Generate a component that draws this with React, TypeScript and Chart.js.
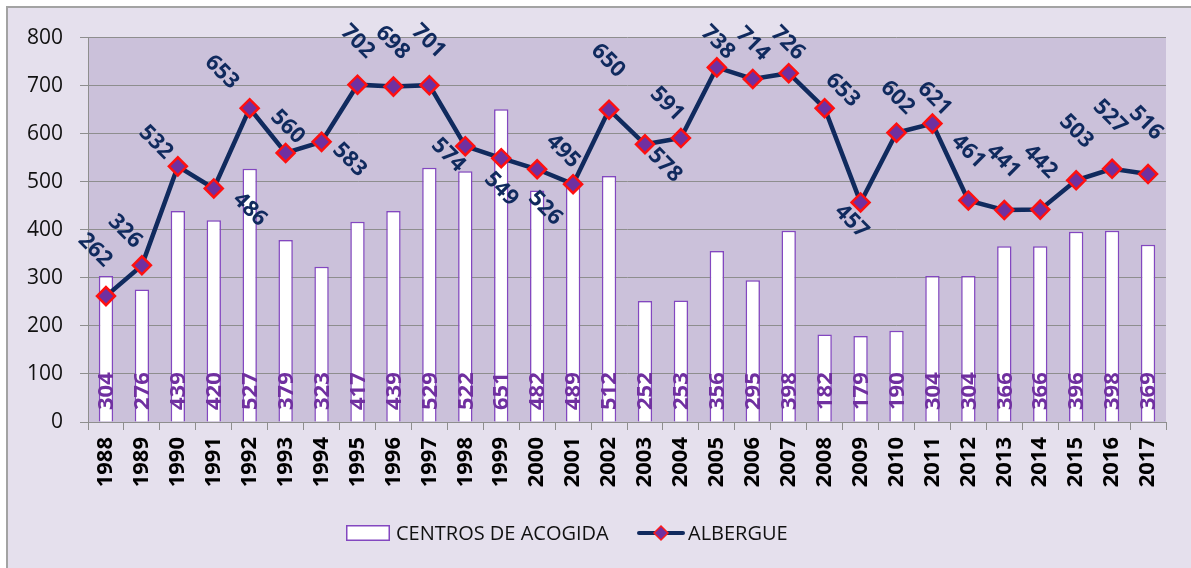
import React, { useEffect, useRef } from 'react';
import { Chart, registerables } from 'chart.js';

Chart.register(...registerables);

// ---- data ----
const years = ['1988','1989','1990','1991','1992','1993','1994','1995','1996','1997','1998','1999','2000','2001','2002','2003','2004','2005','2006','2007','2008','2009','2010','2011','2012','2013','2014','2015','2016','2017'];
const centrosAcogida = [304,276,439,420,527,379,323,417,439,529,522,651,482,489,512,252,253,356,295,398,182,179,190,304,304,366,366,396,398,369];
const albergue = [262,326,532,486,653,560,583,702,698,701,574,549,526,495,650,578,591,738,714,726,653,457,602,621,461,441,442,503,527,516];
const seriesNames = ['CENTROS DE ACOGIDA', 'ALBERGUE'];
const yMin = 0;
const yMax = 800;
const yStep = 100;

// ---- label placement (layout config, px offsets of label centre from the point) ----
const albergueLabelOffsets: [number, number][] = [
  [-11,-46],[-17,-34],[-22,-24],[36,21],[-28,-36],[2,-26],[28,18],[0,-43],[-1,-44],[-1,-44],
  [-17,9],[0,31],[8,39],[-10,-33],[-1,-49],[20,21],[-14,-34],[1,-25],[0,-35],[-1,-30],
  [18,-18],[-9,19],[1,-35],[2,-25],[0,-49],[-1,-49],[0,-48],[0,-49],[-2,-52],[-2,-51],
];

const FONT = "'Open Sans', 'Liberation Sans', sans-serif";
const NAVY = '#102a5e';
const PURPLE = '#7030a0';
const BAR_BORDER = '#8347c0';
const GRID = '#8e8e8e';
const PLOT_BG = '#cbc1da';
const FRAME_BG = '#e5e0ed';

const plotBgPlugin = {
  id: 'plotBg',
  beforeDraw(chart: any) {
    const { ctx, chartArea } = chart;
    ctx.save();
    ctx.fillStyle = PLOT_BG;
    ctx.fillRect(chartArea.left, chartArea.top, chartArea.right - chartArea.left, chartArea.bottom - chartArea.top);
    ctx.restore();
  },
};

const labelsPlugin = {
  id: 'customLabels',
  afterDatasetsDraw(chart: any) {
    const { ctx } = chart;
    // bar labels
    const barMeta = chart.getDatasetMeta(0);
    const base = chart.scales.y.getPixelForValue(0);
    ctx.save();
    ctx.font = `bold 22px ${FONT}`;
    ctx.fillStyle = PURPLE;
    ctx.textAlign = 'left';
    ctx.textBaseline = 'middle';
    barMeta.data.forEach((el: any, i: number) => {
      ctx.save();
      ctx.translate(el.x, base - 12);
      ctx.rotate(-Math.PI / 2);
      ctx.fillText(String(centrosAcogida[i]), 0, 1);
      ctx.restore();
    });
    ctx.restore();

    // line labels
    const lineMeta = chart.getDatasetMeta(1);
    ctx.save();
    ctx.font = `bold 22px ${FONT}`;
    ctx.fillStyle = NAVY;
    ctx.textAlign = 'center';
    ctx.textBaseline = 'middle';
    lineMeta.data.forEach((el: any, i: number) => {
      const [dx, dy] = albergueLabelOffsets[i];
      ctx.save();
      ctx.translate(el.x + dx, el.y + dy);
      ctx.rotate(Math.PI / 4);
      ctx.fillText(String(albergue[i]), 0, 0);
      ctx.restore();
    });
    ctx.restore();
  },
};

const legendPlugin = {
  id: 'customLegend',
  afterDraw(chart: any) {
    const { ctx } = chart;
    const y = 525;
    ctx.save();
    // bar item
    ctx.fillStyle = '#ffffff';
    ctx.fillRect(338, y - 8, 44, 16);
    ctx.strokeStyle = BAR_BORDER;
    ctx.lineWidth = 1.5;
    ctx.strokeRect(338.75, y - 7.25, 42.5, 14.5);
    ctx.font = `20px ${FONT}`;
    ctx.fillStyle = '#111111';
    ctx.textAlign = 'left';
    ctx.textBaseline = 'middle';
    ctx.fillText(chart.data.datasets[0].label, 388, y + 1);
    // line item
    ctx.strokeStyle = NAVY;
    ctx.lineWidth = 4;
    ctx.lineCap = 'round';
    ctx.beginPath();
    ctx.moveTo(631, y);
    ctx.lineTo(675, y);
    ctx.stroke();
    ctx.beginPath();
    ctx.moveTo(653, y - 7);
    ctx.lineTo(660, y);
    ctx.lineTo(653, y + 7);
    ctx.lineTo(646, y);
    ctx.closePath();
    ctx.fillStyle = PURPLE;
    ctx.fill();
    ctx.strokeStyle = '#ff1a1a';
    ctx.lineWidth = 1.5;
    ctx.stroke();
    ctx.fillStyle = '#111111';
    ctx.fillText(chart.data.datasets[1].label, 680, y + 1);
    ctx.restore();
  },
};

export default function App() {
  const canvasRef = useRef<HTMLCanvasElement | null>(null);

  useEffect(() => {
    if (!canvasRef.current) return;
    const chart = new Chart(canvasRef.current, {
      type: 'bar',
      data: {
        labels: years,
        datasets: [
          {
            type: 'bar',
            label: seriesNames[0],
            data: centrosAcogida,
            backgroundColor: '#ffffff',
            borderColor: BAR_BORDER,
            borderWidth: 1.5,
            barPercentage: 0.4,
            categoryPercentage: 1,
            order: 2,
          },
          {
            type: 'line',
            label: seriesNames[1],
            data: albergue,
            borderColor: NAVY,
            borderWidth: 4.5,
            pointStyle: 'rectRot',
            pointRadius: 9,
            pointBackgroundColor: PURPLE,
            pointBorderColor: '#ff1010',
            pointBorderWidth: 2.5,
            tension: 0,
            order: 1,
          },
        ],
      } as any,
      options: {
        animation: false,
        responsive: true,
        maintainAspectRatio: false,
        layout: { padding: { top: 29, right: 25, left: 0, bottom: 0 } },
        plugins: {
          legend: { display: false },
          tooltip: { enabled: false },
        },
        scales: {
          x: {
            offset: true,
            afterFit: (scale: any) => { scale.height = 146; },
            grid: {
              display: true,
              offset: true,
              drawOnChartArea: false,
              drawTicks: true,
              tickLength: 8,
              color: GRID,
              lineWidth: 1,
            },
            border: { display: true, color: GRID, width: 1 },
            ticks: {
              minRotation: 90,
              maxRotation: 90,
              autoSkip: false,
              padding: 7,
              color: '#000000',
              font: { family: FONT, size: 22, weight: 'bold' },
            },
          },
          y: {
            min: yMin,
            max: yMax,
            afterFit: (scale: any) => { scale.width = 80; },
            grid: {
              color: GRID,
              lineWidth: 1,
              tickLength: 8,
              drawTicks: true,
            },
            border: { display: true, color: GRID, width: 1 },
            ticks: {
              stepSize: yStep,
              padding: 17,
              color: '#111111',
              font: { family: FONT, size: 21 },
            },
          },
        },
      } as any,
      plugins: [plotBgPlugin, labelsPlugin, legendPlugin],
    });
    return () => chart.destroy();
  }, []);

  return (
    <div
      style={{
        position: 'fixed',
        left: 6,
        top: 6,
        width: 1183,
        height: 560,
        background: FRAME_BG,
        borderLeft: '2px solid #a3a3a3',
        borderTop: '2px solid #a3a3a3',
      }}
    >
      <div style={{ position: 'relative', width: 1183, height: 560 }}>
        <canvas ref={canvasRef} />
      </div>
    </div>
  );
}
